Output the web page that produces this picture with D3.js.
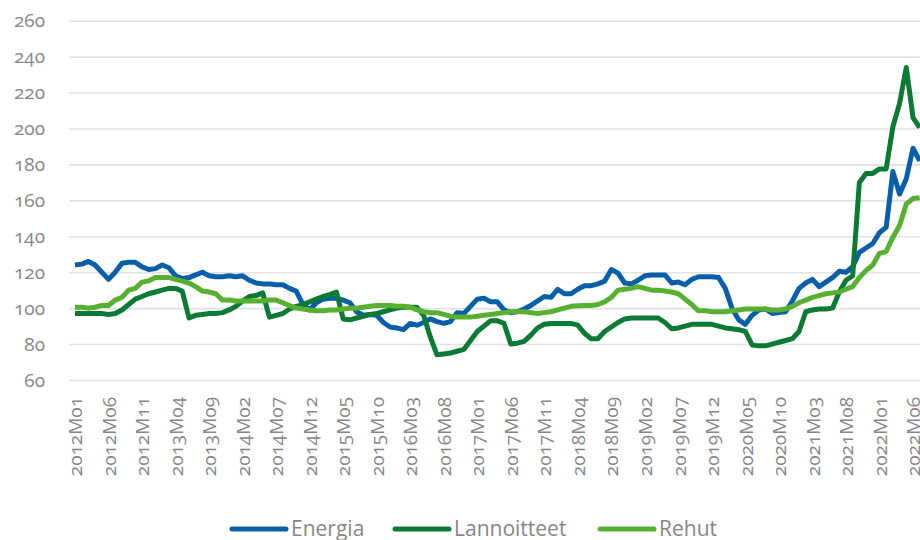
<!DOCTYPE html>
<html>
<head>
<meta charset="utf-8">
<script src="https://cdn.jsdelivr.net/npm/d3@7"></script>
<style>
  body { margin: 0; background: #fff; }
  svg text { font-family: "Open Sans", sans-serif; fill: #878787; font-variant-numeric: oldstyle-nums; }
</style>
</head>
<body>
<div id="chart"></div>
<script>
let width = 920;
let height = 540;

// months 2012M01 .. 2022M07
let months = [];
for (let y = 2012; y <= 2022; y++) {
    for (let m = 1; m <= 12; m++) {
        if (y == 2022 && m > 7) break;
        months.push(y + "M" + (m < 10 ? "0" + m : m));
    }
}
let yTicks = [60, 80, 100, 120, 140, 160, 180, 200, 220, 240, 260];
let seriesNames = ["Energia", "Lannoitteet", "Rehut"];

let energia = [124, 124.5, 126, 124, 120, 116, 120, 125, 125.5, 125.5,
    123, 121.5, 122, 124, 122.5, 118, 116.5, 117, 118.5, 120,
    118, 117.5, 117.5, 118, 117.5, 118, 115.5, 114, 113.5, 113.5,
    113, 113, 111, 109.5, 102, 99, 103, 105, 105.5, 105.5,
    104.5, 103, 98, 96, 96.5, 96, 92, 89.5, 89, 88,
    91.5, 90.5, 92, 94, 92.5, 91.5, 92.5, 97.5, 97, 101,
    105, 105.5, 103.5, 103.5, 99, 97.5, 98, 99.5, 101.5, 104,
    106.5, 106, 110.5, 108, 108, 110.5, 112.5, 112.5, 113.5, 115,
    121.5, 119.5, 114, 113.5, 115.5, 118, 118.5, 118.5, 118.5, 114,
    114.5, 113, 116, 117.5, 117.5, 117.5, 117, 111, 100, 93.5,
    91, 96, 99, 99.5, 97, 97.5, 98, 104, 111, 114,
    116, 112, 114.5, 117, 120.5, 120, 123, 131, 133.5, 136,
    142, 145, 176, 163.5, 172, 189, 182];

let lannoitteet = [97, 97, 97, 97, 97, 96.5, 97, 99, 102, 105,
    106.5, 108, 109, 110, 111, 111, 109.5, 94.5, 96, 96.5,
    97, 97, 97.5, 99, 101, 104, 106.5, 107, 108.5, 95,
    96, 97, 99.5, 101, 102, 103.5, 105, 106.5, 107.5, 109,
    94, 93.5, 94.5, 95.5, 96.5, 97, 98, 99, 100, 100.5,
    100.5, 100.5, 96, 84, 74, 74.5, 75, 76, 77, 82,
    87, 90, 93, 93, 91.5, 80, 80.5, 81.5, 85, 89,
    91, 91.5, 91.5, 91.5, 91.5, 90.5, 86, 83, 83, 87,
    89.5, 92, 94, 94.5, 94.5, 94.5, 94.5, 94.5, 92, 88.5,
    89, 90, 91, 91, 91, 91, 90, 89, 88.5, 88,
    87, 79.5, 79, 79, 80, 81, 82, 83, 87, 98,
    99, 99.5, 99.5, 100, 109, 115.5, 118, 170, 175, 175,
    177.5, 177.5, 201, 214, 234, 206, 200.5];

let rehut = [100.5, 100.5, 100, 100.5, 101.5, 101.5, 104.5, 106, 110, 111,
    114.5, 115.2, 117, 117, 117, 116, 115, 114, 112, 109.5,
    109, 108, 104.5, 104.5, 104, 104, 104, 104, 104, 104.5,
    104.5, 103, 101.5, 100, 99.5, 99, 98.5, 98.5, 99, 99,
    99.5, 100, 100, 100.5, 101, 101.5, 101.5, 101.5, 101, 101,
    100.5, 99, 98, 97.5, 97.5, 96.5, 95.5, 95, 95, 95,
    95.5, 96, 96.5, 97, 97.5, 98, 98, 98, 97.5, 97,
    97.5, 98, 99, 100, 101, 101.3, 101.5, 101.5, 102, 103.5,
    106, 110, 110.5, 111, 112, 111, 110, 110, 109.5, 109,
    108, 105, 102, 98.5, 98.5, 98, 98, 98, 98.5, 99,
    99.5, 99.5, 99.5, 99.5, 99, 99, 99.5, 101, 103, 104.5,
    106, 107, 108, 108.5, 109, 110.5, 112, 117, 121, 124,
    130.5, 131.5, 139.5, 146, 158, 161, 161.5];

let colors = ["#075ea9", "#0b7a34", "#58b031"];
let series = [energia, lannoitteet, rehut];

let svg = d3.select("#chart").append("svg")
    .attr("width", width).attr("height", height);

let x = d3.scalePoint().domain(months).range([75, 919.7]);
let y = d3.scaleLinear().domain([60, 260]).range([380, 20.7]);

// y grid + labels
let yAxis = svg.append("g").attr("transform", "translate(69,0)")
    .call(d3.axisLeft(y).tickValues(yTicks).tickSize(-(width - 69)).tickPadding(24));
yAxis.select(".domain").remove();
yAxis.selectAll(".tick line").attr("stroke", "#e2e2e2").attr("stroke-width", 1.6);
yAxis.selectAll(".tick text").attr("font-size", 19).attr("fill", "#878787");

// x labels every 5 months
let xAxis = svg.append("g").attr("transform", "translate(0,380)")
    .call(d3.axisBottom(x).tickValues(months.filter((d, i) => i % 5 == 0)).tickSize(0));
xAxis.select(".domain").remove();
xAxis.selectAll(".tick text")
    .attr("font-size", 19).attr("fill", "#878787")
    .attr("transform", "rotate(-90)")
    .attr("x", -17).attr("y", 0).attr("dy", "0.35em")
    .style("text-anchor", "end");

let line = d3.line().x((d, i) => x(months[i])).y(d => y(d));

svg.append("g").selectAll("path").data(series).join("path")
    .attr("d", d => line(d))
    .attr("fill", "none")
    .attr("stroke", (d, i) => colors[i])
    .attr("stroke-width", 5)
    .attr("stroke-linejoin", "round");

// legend
let legendX = [232, 395, 600];
let legend = svg.append("g").selectAll("g").data(seriesNames).join("g")
    .attr("transform", (d, i) => `translate(${legendX[i]},529)`);
legend.append("line")
    .attr("x1", 0).attr("x2", 54).attr("y1", 0).attr("y2", 0)
    .attr("stroke", (d, i) => colors[i]).attr("stroke-width", 5)
    .attr("stroke-linecap", "round");
legend.append("text")
    .attr("x", 59).attr("y", 7)
    .attr("font-size", 21).attr("fill", "#878787")
    .text(d => d);
</script>
</body>
</html>
